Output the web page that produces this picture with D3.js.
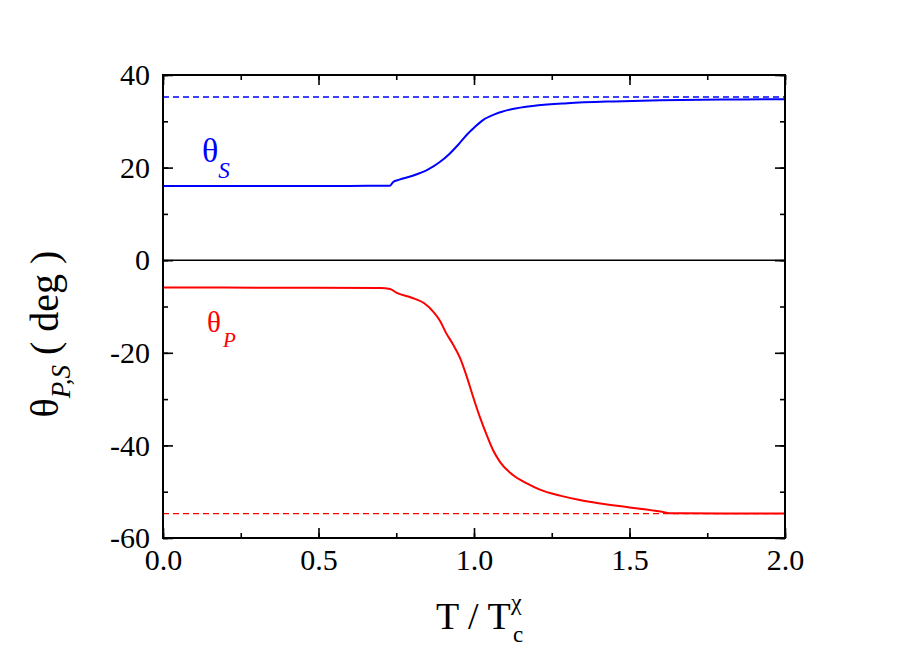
<!DOCTYPE html>
<html>
<head>
<meta charset="utf-8">
<script src="https://cdn.jsdelivr.net/npm/d3@7"></script>
<style>
  body { margin: 0; background: #fff; }
  svg text { font-family: "Liberation Serif", "Times New Roman", serif; }
</style>
</head>
<body>
<div id="chart"></div>
<script>
// Data
const thetaS = [
  [0.00, 16.0], [0.30, 16.0], [0.60, 16.05], [0.73, 16.1], [0.74, 16.9],
  [0.76, 17.4], [0.80, 18.2], [0.85, 19.5], [0.89, 21.2], [0.92, 22.9],
  [0.95, 25.0], [0.98, 27.3], [1.00, 28.6], [1.03, 30.3], [1.07, 31.6],
  [1.12, 32.6], [1.20, 33.4], [1.30, 33.9], [1.45, 34.3], [1.60, 34.55],
  [1.80, 34.7], [2.00, 34.75]
];
const thetaP = [
  [0.00, -5.9], [0.40, -5.95], [0.70, -6.0], [0.73, -6.2], [0.75, -7.0],
  [0.80, -8.1], [0.84, -9.3], [0.87, -11.2], [0.89, -13.0], [0.91, -15.7],
  [0.93, -17.9], [0.955, -21.1], [0.977, -25.2], [0.997, -29.5], [1.019, -33.9],
  [1.041, -37.8], [1.061, -41.0], [1.084, -43.6], [1.125, -46.4], [1.17, -48.2],
  [1.21, -49.5], [1.28, -50.9], [1.34, -51.8], [1.40, -52.5], [1.50, -53.4],
  [1.60, -54.3], [1.63, -54.65], [1.80, -54.7], [2.00, -54.72]
];
const limitS = 35.26;
const limitP = -54.74;
const xTicks = [0, 0.5, 1.0, 1.5, 2.0];
const yTicks = [-60, -40, -20, 0, 20, 40];

const W = 913, H = 646;
const mLeft = 163, mRight = 785, mTop = 75, mBottom = 538;
const serif = "Liberation Serif, Times New Roman, serif";

const x = d3.scaleLinear().domain([0, 2]).range([mLeft, mRight]);
const y = d3.scaleLinear().domain([-60, 40]).range([mBottom, mTop]);

const svg = d3.select("#chart").append("svg")
  .attr("width", W).attr("height", H);

// dashed limits
svg.append("line")
  .attr("x1", x(0)).attr("x2", x(2))
  .attr("y1", y(limitS)).attr("y2", y(limitS))
  .attr("stroke", "#0000ff").attr("stroke-width", 1.4)
  .attr("stroke-dasharray", "6,4");
svg.append("line")
  .attr("x1", x(0)).attr("x2", x(2))
  .attr("y1", y(limitP)).attr("y2", y(limitP))
  .attr("stroke", "#ff0000").attr("stroke-width", 1.4)
  .attr("stroke-dasharray", "6,4");

// zero line
svg.append("line")
  .attr("x1", x(0)).attr("x2", x(2))
  .attr("y1", y(0)).attr("y2", y(0))
  .attr("stroke", "#000").attr("stroke-width", 1.6);

const line = d3.line()
  .x(d => x(d[0]))
  .y(d => y(d[1]))
  .curve(d3.curveMonotoneX);

svg.append("path").datum(thetaS)
  .attr("fill", "none").attr("stroke", "#0000ff").attr("stroke-width", 2)
  .attr("d", line);
svg.append("path").datum(thetaP)
  .attr("fill", "none").attr("stroke", "#ff0000").attr("stroke-width", 2)
  .attr("d", line);

// axes with inward ticks on all four sides
const xMinor = d3.range(0, 2.001, 0.25);
const yMinor = d3.range(-60, 40.001, 10);

function styleAxis(g) {
  g.select(".domain").remove();
  g.selectAll(".tick line").attr("stroke", "#000").attr("stroke-width", 1.6);
  g.selectAll(".tick text")
    .attr("font-family", serif).attr("font-size", 30).attr("fill", "#000");
}

svg.append("g").attr("transform", `translate(0,${mBottom})`)
  .call(d3.axisBottom(x).tickValues(xMinor).tickSize(-5).tickFormat(""))
  .call(styleAxis);
svg.append("g").attr("transform", `translate(0,${mBottom})`)
  .call(d3.axisBottom(x).tickValues(xTicks).tickSize(-10).tickPadding(11)
    .tickFormat(d3.format(".1f")))
  .call(styleAxis);

svg.append("g").attr("transform", `translate(0,${mTop})`)
  .call(d3.axisTop(x).tickValues(xMinor).tickSize(-5).tickFormat(""))
  .call(styleAxis);
svg.append("g").attr("transform", `translate(0,${mTop})`)
  .call(d3.axisTop(x).tickValues(xTicks).tickSize(-10).tickFormat(""))
  .call(styleAxis);

svg.append("g").attr("transform", `translate(${mLeft},0)`)
  .call(d3.axisLeft(y).tickValues(yMinor).tickSize(-5).tickFormat(""))
  .call(styleAxis);
svg.append("g").attr("transform", `translate(${mLeft},0)`)
  .call(d3.axisLeft(y).tickValues(yTicks).tickSize(-10).tickPadding(13)
    .tickFormat(d => String(d)))
  .call(styleAxis);

svg.append("g").attr("transform", `translate(${mRight},0)`)
  .call(d3.axisRight(y).tickValues(yMinor).tickSize(-5).tickFormat(""))
  .call(styleAxis);
svg.append("g").attr("transform", `translate(${mRight},0)`)
  .call(d3.axisRight(y).tickValues(yTicks).tickSize(-10).tickFormat(""))
  .call(styleAxis);

// frame
svg.append("rect")
  .attr("x", mLeft).attr("y", mTop)
  .attr("width", mRight - mLeft).attr("height", mBottom - mTop)
  .attr("fill", "none").attr("stroke", "#000").attr("stroke-width", 2);

// curve labels
const lblS = svg.append("text").attr("x", 202).attr("y", 162)
  .attr("fill", "#0000ff").attr("font-size", 34);
lblS.append("tspan").text("θ");
lblS.append("tspan").attr("dy", 16).attr("font-size", 23)
  .attr("font-style", "italic").text("S");

const lblP = svg.append("text").attr("x", 207).attr("y", 332)
  .attr("fill", "#ff0000").attr("font-size", 29);
lblP.append("tspan").text("θ");
lblP.append("tspan").attr("dx", 2).attr("dy", 15).attr("font-size", 21)
  .attr("font-style", "italic").text("P");

// y axis title
const yt = svg.append("text")
  .attr("transform", "translate(58,334) rotate(-90)")
  .attr("text-anchor", "middle").attr("font-size", 40).attr("fill", "#000");
yt.append("tspan").text("θ");
yt.append("tspan").attr("dy", 12).attr("font-size", 27)
  .attr("font-style", "italic").text("P,S");
yt.append("tspan").attr("dy", -12).text(" ( deg )");

// x axis title
svg.append("text").attr("x", 436).attr("y", 629)
  .attr("font-size", 38).attr("fill", "#000").text("T / T");
svg.append("text").attr("x", 511).attr("y", 610)
  .attr("font-size", 24).attr("fill", "#000").text("χ");
svg.append("text").attr("x", 513).attr("y", 642)
  .attr("font-size", 23).attr("fill", "#000").text("c");
</script>
</body>
</html>
